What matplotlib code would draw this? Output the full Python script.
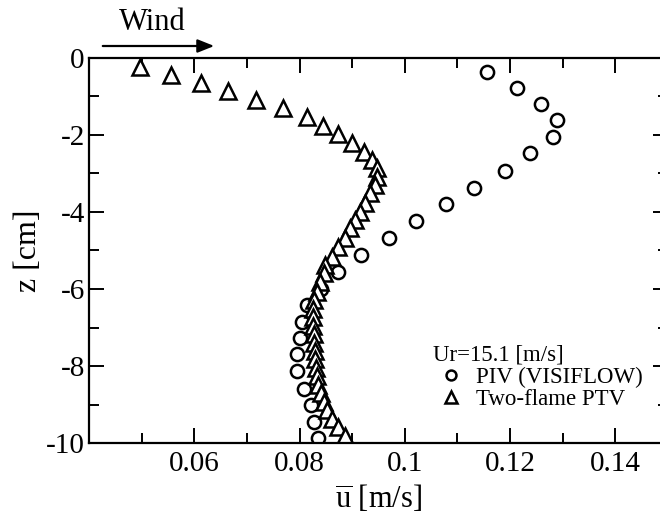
import numpy as np
import matplotlib
matplotlib.use('Agg')
import matplotlib.pyplot as plt
from matplotlib.ticker import MultipleLocator

plt.rcParams['font.family'] = 'Liberation Serif'
plt.rcParams['mathtext.fontset'] = 'custom'
plt.rcParams['mathtext.rm'] = 'Liberation Serif'
plt.rcParams['axes.unicode_minus'] = False

# PIV (VISIFLOW) profile
piv_z = [-0.36, -0.78, -1.19, -1.61, -2.04, -2.48, -2.93, -3.37, -3.80, -4.23, -4.67, -5.11,
         -5.55, -5.99, -6.42, -6.85, -7.28, -7.70, -8.14, -8.59, -9.02, -9.45, -9.88]
piv_u = [0.1156, 0.1213, 0.1259, 0.1289, 0.1281, 0.1238, 0.1191, 0.1132, 0.1079, 0.1022, 0.0969, 0.0917,
         0.0874, 0.0840, 0.0815, 0.0805, 0.0801, 0.0795, 0.0795, 0.0808, 0.0822, 0.0827, 0.0836]

# Two-flame PTV profile
ptv_z = [-0.23, -0.44, -0.65, -0.87, -1.09, -1.31, -1.52, -1.77, -1.98, -2.22, -2.43, -2.66,
         -2.86, -3.08, -3.30, -3.51, -3.77, -3.99, -4.21, -4.42, -4.68, -4.90, -5.16, -5.38,
         -5.59, -5.81, -6.07, -6.29, -6.51, -6.73, -6.95, -7.17, -7.39, -7.61, -7.83, -8.05,
         -8.27, -8.49, -8.71, -8.93, -9.15, -9.37, -9.59, -9.81]
ptv_u = [0.0497, 0.0556, 0.0613, 0.0665, 0.0717, 0.0768, 0.0814, 0.0844, 0.0874, 0.0900, 0.0922, 0.0937,
         0.0947, 0.0948, 0.0944, 0.0934, 0.0925, 0.0915, 0.0906, 0.0896, 0.0887, 0.0874, 0.0862, 0.0849,
         0.0846, 0.0839, 0.0833, 0.0827, 0.0825, 0.0825, 0.0826, 0.0827, 0.0828, 0.0829, 0.0830, 0.0831,
         0.0833, 0.0836, 0.0840, 0.0846, 0.0853, 0.0862, 0.0873, 0.0886]

xticks = [0.06, 0.08, 0.1, 0.12, 0.14]
xticklabels = ['0.06', '0.08', '0.1', '0.12', '0.14']
yticks = [0, -2, -4, -6, -8, -10]

fig = plt.figure(figsize=(6.6, 5.27), dpi=100)
ax = fig.add_axes([89/660, 84/527, 579/660, 385/527])

ax.plot(piv_u, piv_z, 'o', mfc='white', mec='black', mew=1.8, ms=9.5,
        ls='none', label='PIV (VISIFLOW)')
ax.plot(ptv_u, ptv_z, '^', mfc='white', mec='black', mew=1.8, ms=11,
        ls='none', label='Two-flame PTV')

ax.set_xlim(0.04, 0.15)
ax.set_ylim(-10, 0)
ax.set_xticks(xticks)
ax.set_xticklabels(xticklabels)
ax.set_yticks(yticks)
ax.xaxis.set_minor_locator(MultipleLocator(0.01))
ax.yaxis.set_minor_locator(MultipleLocator(1))
ax.tick_params(which='both', direction='in', top=True, right=True, width=1.4, labelsize=21)
ax.tick_params(which='major', length=11)
ax.tick_params(which='minor', length=7)
ax.tick_params(axis='x', pad=6)
ax.tick_params(axis='y', pad=3)
for s in ax.spines.values():
    s.set_linewidth(1.6)

ax.set_xlabel(r'$\overline{\mathrm{u}}$ [m/s]', fontsize=22, labelpad=4)
ax.set_ylabel('z [cm]', fontsize=23, labelpad=2)

leg = ax.legend(loc='upper left', bbox_to_anchor=(0.594, 0.255), frameon=False,
                title='Ur=15.1 [m/s]', alignment='left', fontsize=16.5, title_fontsize=16.5,
                borderpad=0, borderaxespad=0, handlelength=1.6, handletextpad=0.3,
                labelspacing=0.05, markerscale=0.75)

fig.text(152/660, 1 - 22/527, 'Wind', fontsize=22, ha='center', va='center')
fig.add_artist(matplotlib.patches.FancyArrowPatch(
    (100/660, 1 - 46/527), (217/660, 1 - 46/527), transform=fig.transFigure,
    arrowstyle='-|>,head_length=10,head_width=4', mutation_scale=1, lw=1.6, color='black'))

fig.savefig('out.png', dpi=100)
